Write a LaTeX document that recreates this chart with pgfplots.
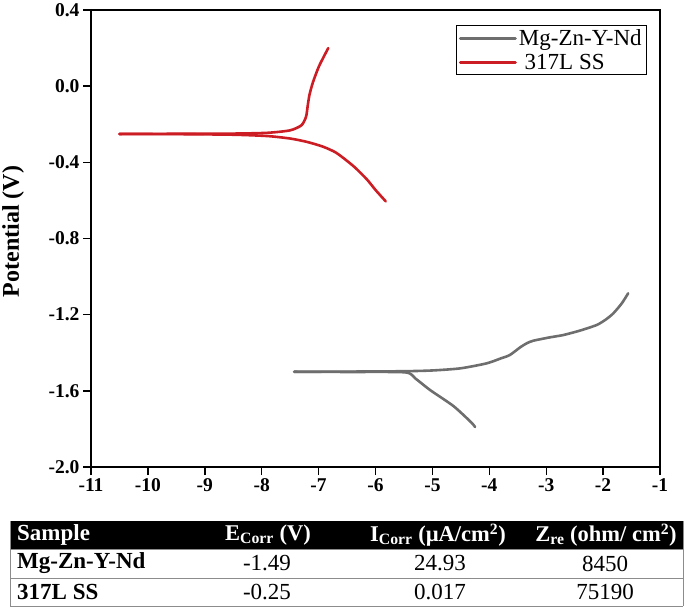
\documentclass[border=0pt]{standalone}
\usepackage{pgfplots}
\pgfplotsset{compat=1.18}
\usepackage{fontspec}
\setmainfont{Liberation Serif}
\definecolor{ssred}{RGB}{204,28,36}
\definecolor{mggray}{RGB}{110,110,110}
\begin{document}
\begin{tikzpicture}
\begin{axis}[
  at={(91pt,141pt)}, anchor=south west,
  width=569pt, height=457pt, scale only axis,
  xmin=-11, xmax=-1, ymin=-2, ymax=0.4,
  xtick={-11,-10,...,-1},
  ytick={-2.0,-1.6,-1.2,-0.8,-0.4,0.0,0.4},
  yticklabel style={/pgf/number format/.cd,fixed,fixed zerofill,precision=1},
  /pgf/number format/assume math mode=true,
  xtick pos=bottom, ytick pos=left,
  tick align=outside, major tick length=8pt,
  tick style={black, line width=1.4pt},
  axis line style={line width=1.4pt},
  ticklabel style={font=\fontsize{19.5}{21}\selectfont\bfseries},
  ylabel={Potential (V)},
  every axis y label/.style={at={(axis description cs:-0.137,0.515)}, rotate=90, anchor=center, inner sep=0pt,
     font=\fontsize{24}{26}\selectfont\bfseries},
  legend style={at={(1,1)}, xshift=-13pt, yshift=-15pt, anchor=north east,
    draw=black, line width=0.8pt, font=\fontsize{23}{25}\selectfont,
    inner xsep=3pt, inner ysep=2pt, row sep=3pt},
  legend cell align=left,
  legend image code/.code={\draw[#1, line width=3pt] (0pt,0pt) -- (55pt,0pt);},
  clip=false,
]
% Mg-Zn-Y-Nd cathodic branch down to Ecorr spike
\addplot[mggray, line width=2.6pt, smooth, tension=0.4, line join=round, line cap=round] coordinates {
(-4.25,-1.79) (-4.32,-1.765) (-4.63,-1.68) (-5.04,-1.596) (-5.3,-1.535) (-5.48,-1.503) (-6.5,-1.501) (-7.43,-1.500)
};
\addlegendentry{Mg-Zn-Y-Nd}
\addplot[ssred, line width=2.6pt, smooth, tension=0.4, line join=round, line cap=round] coordinates {
(-5.82,-0.605) (-6.0,-0.545) (-6.15,-0.49) (-6.35,-0.43) (-6.51,-0.39) (-6.7,-0.348) (-6.92,-0.318) (-7.2,-0.293) (-7.5,-0.275) (-7.9,-0.262) (-8.5,-0.255) (-9.5,-0.252) (-10.5,-0.251)
};
\addlegendentry{\ 317L SS}
\addplot[mggray, line width=2.6pt, smooth, tension=0.4, line join=round, line cap=round, forget plot] coordinates {
(-7.43,-1.500) (-6.5,-1.499) (-5.5,-1.497) (-5.0,-1.493) (-4.51,-1.482) (-4.05,-1.456) (-3.8,-1.43) (-3.64,-1.412) (-3.45,-1.37) (-3.34,-1.35) (-3.23,-1.337) (-2.95,-1.32) (-2.70,-1.307) (-2.41,-1.284) (-2.11,-1.254) (-1.95,-1.225) (-1.82,-1.193) (-1.67,-1.14) (-1.56,-1.088)
};
\addplot[ssred, line width=2.6pt, smooth, tension=0.4, line join=round, line cap=round, forget plot] coordinates {
(-10.5,-0.251) (-9.5,-0.250) (-8.5,-0.249) (-7.9,-0.245) (-7.5,-0.232) (-7.3,-0.205) (-7.22,-0.16) (-7.19,-0.1) (-7.16,-0.045) (-7.1,0.02) (-7.0,0.1) (-6.9,0.16) (-6.83,0.2)
};
\end{axis}
% table
\fill[black] (10pt,59pt) rectangle (683pt,87pt);
\draw[black!45, line width=0.8pt] (10pt,59pt) -- (683pt,59pt);
\draw[black!45, line width=0.8pt] (10pt,30pt) -- (683pt,30pt);
\draw[black!45, line width=0.8pt] (10pt,2pt) -- (683pt,2pt);
\draw[black!45, line width=0.8pt] (10pt,2pt) -- (10pt,87pt);
\draw[black!45, line width=0.8pt] (683pt,2pt) -- (683pt,87pt);
\begin{scope}[every node/.style={font=\fontsize{23}{25}\selectfont, inner sep=0pt}]
\node[white, anchor=west, font=\fontsize{23}{25}\selectfont\bfseries] at (17pt,73pt) {Sample};
\node[white, font=\fontsize{22.5}{24}\selectfont\bfseries] at (268pt,73pt) {E\textsubscript{Corr} (V)};
\node[white, font=\fontsize{22.5}{24}\selectfont\bfseries] at (438pt,73pt) {I\textsubscript{Corr} (µA/cm\textsuperscript{2})};
\node[white, font=\fontsize{22.5}{24}\selectfont\bfseries] at (606pt,73pt) {Z\textsubscript{re} (ohm/ cm\textsuperscript{2})};
\node[anchor=west, font=\fontsize{23}{25}\selectfont\bfseries] at (17pt,44.5pt) {Mg-Zn-Y-Nd};
\node at (267pt,44.5pt) {-1.49};
\node at (440pt,44.5pt) {24.93};
\node at (605pt,44.5pt) {8450};
\node[anchor=west, font=\fontsize{23}{25}\selectfont\bfseries] at (17pt,16pt) {317L SS};
\node at (267pt,16pt) {-0.25};
\node at (440pt,16pt) {0.017};
\node at (605pt,16pt) {75190};
\end{scope}
\pgfresetboundingbox
\useasboundingbox (0pt,0pt) rectangle (688pt,608pt);
\end{tikzpicture}
\end{document}
